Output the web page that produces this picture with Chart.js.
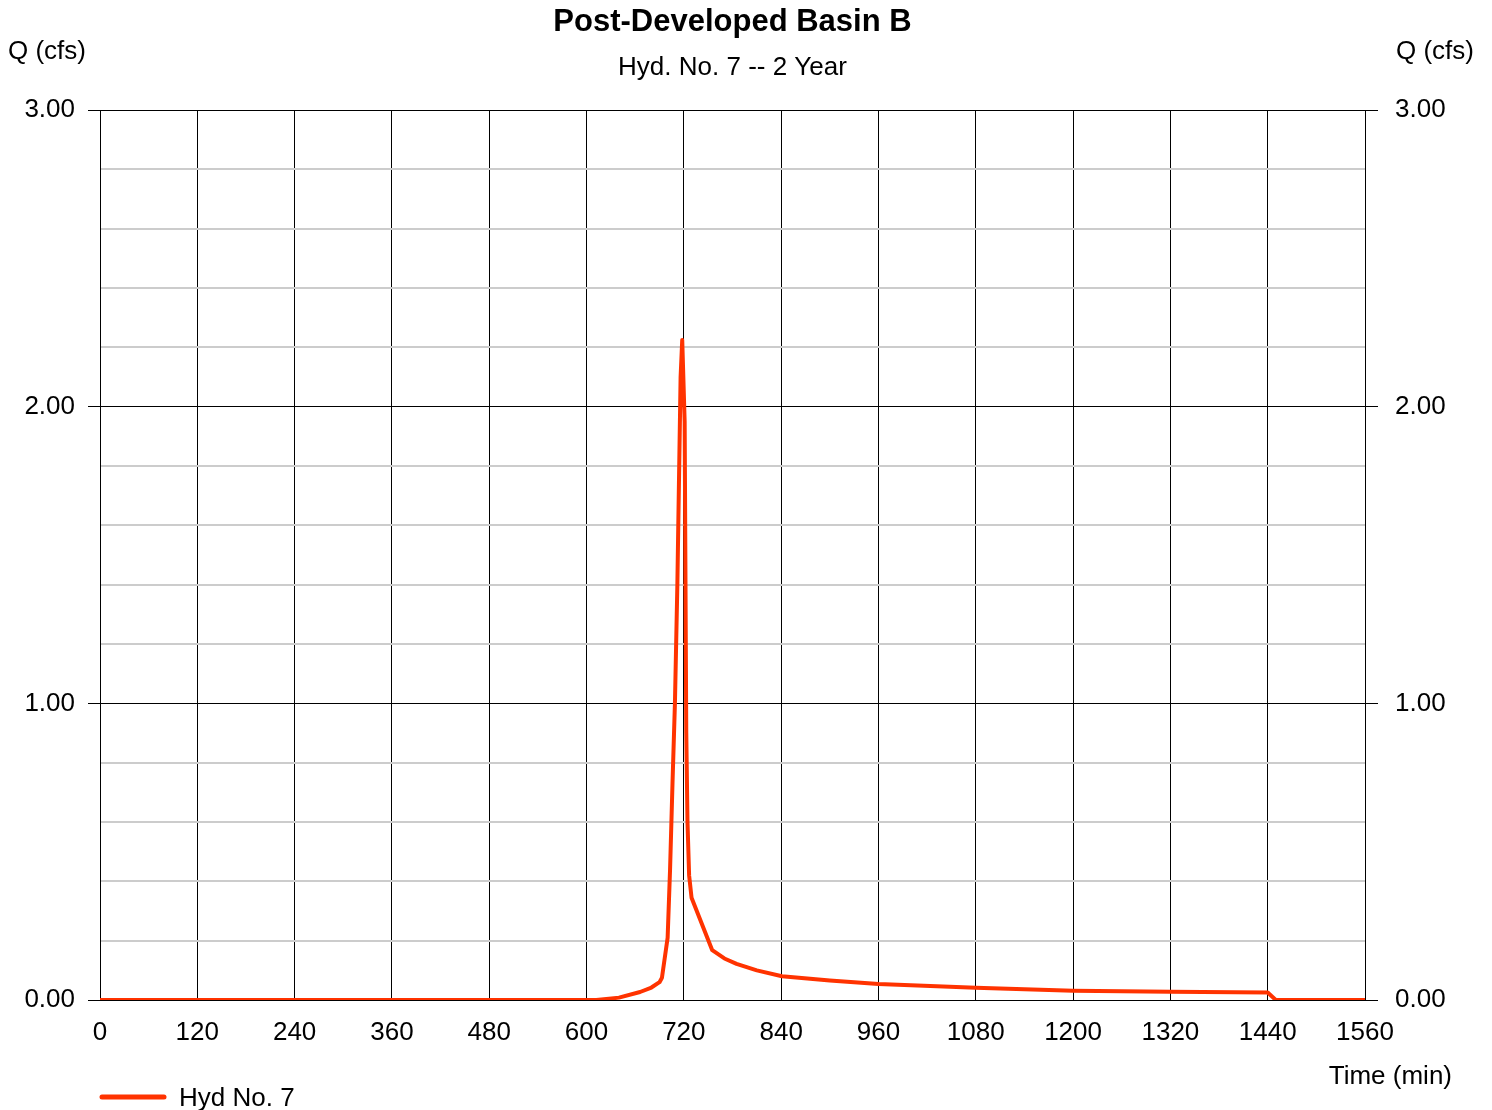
<!DOCTYPE html>
<html>
<head>
<meta charset="utf-8">
<title>Post-Developed Basin B</title>
<script src="https://cdn.jsdelivr.net/npm/chart.js@4.4.1/dist/chart.umd.min.js"></script>
<style>
    body { margin: 0; background: #fff; }
    #wrap { width: 1492px; height: 1110px; }
</style>
</head>
<body>
<div id="wrap"><canvas id="hydroChart" width="1492" height="1110"></canvas></div>
<script>
// Hydrograph values (time in min, flow in cfs)
const times = [0, 612, 640, 666, 680, 690, 693, 700, 703, 706, 709, 712, 714, 716, 718, 721, 723, 724.5, 726.5, 729.5,
    755, 770, 785, 810, 841, 900, 960, 1080, 1200, 1320, 1440, 1450, 1560];
const flows = [0, 0, 0.008, 0.027, 0.042, 0.06, 0.075, 0.21, 0.44, 0.73, 1.0, 1.40, 1.75, 2.1, 2.225, 1.95, 0.9, 0.6, 0.42, 0.345,
    0.168, 0.14, 0.122, 0.1, 0.08, 0.066, 0.054, 0.041, 0.031, 0.028, 0.025, 0, 0];

const chartTitle = 'Post-Developed Basin B';
const chartSubtitle = 'Hyd. No. 7 -- 2 Year';
const seriesLabel = 'Hyd No. 7';
const yTitle = 'Q (cfs)';
const xTitle = 'Time (min)';
const lineColor = 'rgb(255, 51, 0)';

const FONT = '"Liberation Sans", Arial, sans-serif';
Chart.defaults.font.family = FONT;
Chart.defaults.font.size = 26;
Chart.defaults.color = '#000';

const isMajor = v => Math.abs(v - Math.round(v)) < 1e-6;

// Titles, corner axis labels and legend drawn around the plot
const extraText = {
    id: 'extraText',
    afterDraw(chart) {
        const ctx = chart.ctx;
        const area = chart.chartArea;
        const mid = (area.left + area.right) / 2;
        ctx.save();
        ctx.fillStyle = '#000';
        ctx.textBaseline = 'middle';

        ctx.textAlign = 'center';
        ctx.font = 'bold 31px ' + FONT;
        ctx.fillText(chartTitle, mid, 22);
        ctx.font = '26px ' + FONT;
        ctx.fillText(chartSubtitle, mid, 68);

        ctx.textAlign = 'left';
        ctx.fillText(yTitle, 8, 52);
        ctx.textAlign = 'right';
        ctx.fillText(yTitle, 1474, 52);
        ctx.fillText(xTitle, 1452, 1077);

        // legend
        ctx.strokeStyle = lineColor;
        ctx.lineWidth = 5;
        ctx.lineCap = 'round';
        ctx.beginPath();
        ctx.moveTo(area.left + 2, 1097);
        ctx.lineTo(area.left + 64, 1097);
        ctx.stroke();
        ctx.textAlign = 'left';
        ctx.fillText(seriesLabel, 179, 1099);
        ctx.restore();
    }
};

const ctx = document.getElementById('hydroChart').getContext('2d');

new Chart(ctx, {
    type: 'line',
    data: {
        datasets: [{
            label: seriesLabel,
            data: times.map((t, i) => ({ x: t, y: flows[i] })),
            borderColor: lineColor,
            backgroundColor: lineColor,
            borderWidth: 4,
            pointRadius: 0,
            tension: 0,
            borderJoinStyle: 'round',
            borderCapStyle: 'round',
            fill: false
        }]
    },
    options: {
        responsive: false,
        animation: false,
        layout: { padding: { top: 110, left: 0, right: 0, bottom: 0 } },
        plugins: {
            legend: { display: false },
            title: { display: false },
            tooltip: { enabled: false }
        },
        scales: {
            x: {
                type: 'linear',
                min: 0,
                max: 1560,
                afterFit: scale => { scale.height = 110; },
                ticks: {
                    stepSize: 120,
                    autoSkip: false,
                    maxRotation: 0,
                    padding: 17,
                    color: '#000',
                    callback: v => String(v)
                },
                grid: {
                    color: '#000',
                    lineWidth: 1,
                    tickLength: 0
                },
                border: { color: '#000', width: 1 }
            },
            y: {
                position: 'left',
                min: 0,
                max: 3,
                afterFit: scale => { scale.width = 100; },
                ticks: {
                    stepSize: 0.2,
                    padding: 13,
                    color: '#000',
                    callback: v => isMajor(v) ? v.toFixed(2) : ''
                },
                grid: {
                    color: c => isMajor(c.tick.value) ? '#000' : '#cccccc',
                    lineWidth: c => isMajor(c.tick.value) ? 1 : 2,
                    tickColor: c => isMajor(c.tick.value) ? '#000' : 'rgba(0,0,0,0)',
                    tickWidth: 1,
                    tickLength: 12
                },
                border: { color: '#000', width: 1 }
            },
            y2: {
                position: 'right',
                min: 0,
                max: 3,
                afterFit: scale => { scale.width = 127; },
                ticks: {
                    stepSize: 1,
                    padding: 17,
                    color: '#000',
                    callback: v => v.toFixed(2)
                },
                grid: {
                    drawOnChartArea: false,
                    tickColor: '#000',
                    tickLength: 13
                },
                border: { color: '#000', width: 1 }
            }
        }
    },
    plugins: [extraText]
});
</script>
</body>
</html>
